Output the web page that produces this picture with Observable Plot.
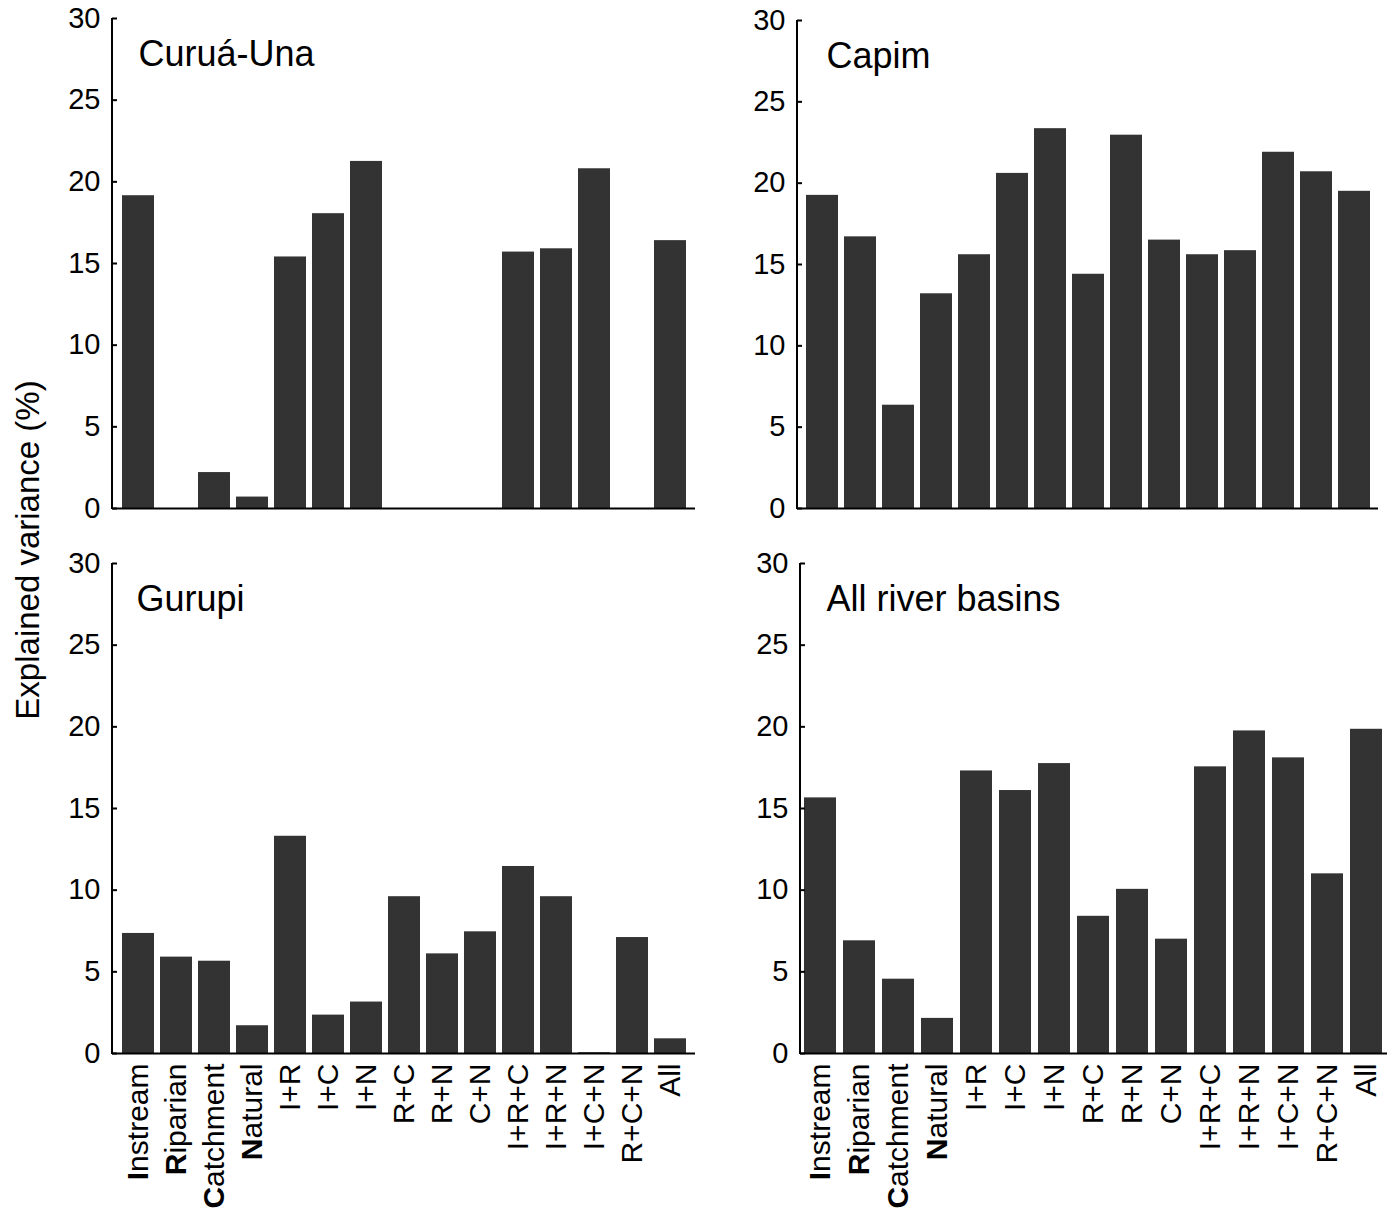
<!DOCTYPE html>
<html><head><meta charset="utf-8">
<script src="https://cdn.jsdelivr.net/npm/d3@7"></script>
<script src="https://cdn.jsdelivr.net/npm/@observablehq/plot@0.6"></script>
<style>
body{margin:0;background:#fff;}
#chart{position:relative;width:1395px;height:1215px;font-family:"Liberation Sans",Arial,sans-serif;overflow:hidden;background:#fff;}
.panel{position:absolute;}
#ylab{position:absolute;z-index:10;left:28px;top:550px;transform:translate(-50%,-50%) rotate(-90deg);font-size:33px;white-space:nowrap;color:#000;}
</style></head>
<body><div id="chart"><div id="ylab">Explained variance (%)</div></div>
<script>
const categories = ["Instream","Riparian","Catchment","Natural","I+R","I+C","I+N","R+C","R+N","C+N","I+R+C","I+R+N","I+C+N","R+C+N","All"];
const boldFirst = ["Instream","Riparian","Catchment","Natural"];
const yTicks = [0,5,10,15,20,25,30];
const titles = ["Curuá-Una","Capim","Gurupi","All river basins"];
const curuaUna = [19.15,0,2.2,0.7,15.4,18.05,21.25,0,0,0,15.7,15.9,20.8,0,16.4];
const capim    = [19.25,16.7,6.35,13.2,15.6,20.6,23.35,14.4,22.95,16.5,15.6,15.85,21.9,20.7,19.5];
const gurupi   = [7.35,5.9,5.65,1.7,13.3,2.35,3.15,9.6,6.1,7.45,11.45,9.6,0.05,7.1,0.9];
const allBasins= [15.65,6.9,4.55,2.15,17.3,16.1,17.75,8.4,10.05,7.0,17.55,19.75,18.1,11.0,19.85];

const chart = document.getElementById("chart");
const SVGNS = "http://www.w3.org/2000/svg";

function panel(values, title, showX, box) {
  const data = categories.map((c, i) => ({category: c, value: values[i]}));
  const marks = [
    Plot.barY(data, {x: "category", y: "value", fill: "#333333"}),
    Plot.ruleY([0], {stroke: "#000", strokeWidth: 2}),
    Plot.axisY({ticks: yTicks, tickSize: 5, insetLeft: 5, tickPadding: 12, strokeWidth: 2,
      fontSize: 29, fontFamily: "'Liberation Sans Narrow','Arial Narrow','Liberation Sans',sans-serif", label: null}),
    Plot.text([title], {text: d => d, frameAnchor: "top-left", lineAnchor: "middle", dx: box.tdx, dy: 36, fontSize: 36, textAnchor: "start",
      fontFamily: "'Liberation Sans',Arial,sans-serif"})
  ];
  if (showX) marks.push(Plot.axisX({tickRotate: -90, tickSize: 0, tickPadding: 10, fontSize: 30, label: null,
      fontFamily: "'Liberation Sans',Arial,sans-serif"}));
  const svg = Plot.plot({
    width: box.width, height: box.height,
    marginLeft: box.ml, marginRight: box.mr, marginTop: box.mt, marginBottom: box.mb,
    style: {background: "transparent", color: "#000", overflow: "visible"},
    x: {domain: categories, paddingInner: 0.17, paddingOuter: 0.08, axis: showX ? undefined : null},
    y: {domain: [0, 30]},
    marks
  });
  svg.classList.add("panel");
  svg.style.left = box.left + "px";
  svg.style.top = box.top + "px";
  svg.style.position = "absolute";
  // vertical axis line, positioned from the plot's own scales
  const xs = svg.scale("x"), ys = svg.scale("y");
  const x0 = Math.min(...xs.range);
  const line = document.createElementNS(SVGNS, "line");
  line.setAttribute("x1", x0); line.setAttribute("x2", x0);
  line.setAttribute("y1", ys.apply(0) + 1); line.setAttribute("y2", ys.apply(30));
  line.setAttribute("stroke", "#000"); line.setAttribute("stroke-width", 2);
  svg.appendChild(line);
  if (showX) {
    svg.querySelectorAll('g[aria-label="x-axis tick label"] text').forEach(t => {
      const s = t.textContent;
      if (boldFirst.includes(s)) {
        t.textContent = "";
        const b = document.createElementNS(SVGNS, "tspan");
        b.setAttribute("font-weight", "bold");
        b.textContent = s[0];
        const r = document.createElementNS(SVGNS, "tspan");
        r.textContent = s.slice(1);
        t.appendChild(b); t.appendChild(r);
      }
    });
  }
  chart.appendChild(svg);
}

panel(curuaUna, titles[0], false, {left: 0, top: 0, width: 700, height: 535, ml: 112, mr: 5, mt: 18, mb: 27, tdx: 26});
panel(capim, titles[1], false, {left: 690, top: 0, width: 705, height: 535, ml: 107, mr: 17, mt: 20, mb: 27, tdx: 29});
panel(gurupi, titles[2], true, {left: 0, top: 540, width: 700, height: 675, ml: 112, mr: 5, mt: 23, mb: 162, tdx: 24});
panel(allBasins, titles[3], true, {left: 690, top: 540, width: 705, height: 675, ml: 110, mr: 8, mt: 23, mb: 162, tdx: 26});
</script>
</body></html>
